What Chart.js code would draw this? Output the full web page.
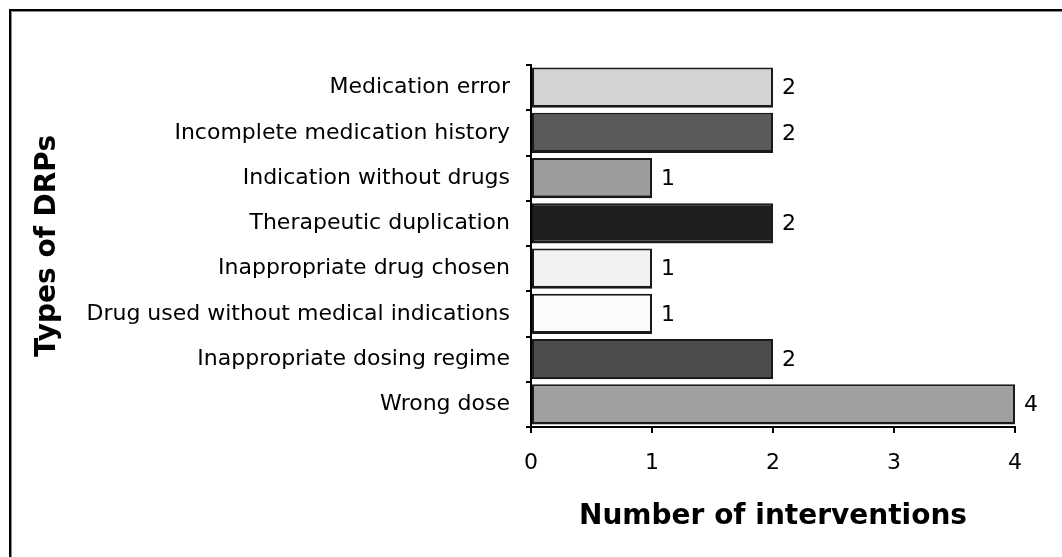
<!DOCTYPE html>
<html>
<head>
<meta charset="utf-8">
<script src="https://cdn.jsdelivr.net/npm/chart.js@4.4.1/dist/chart.umd.min.js"></script>
<style>
  html, body { margin: 0; padding: 0; background: #fff; overflow: hidden; }
  #c { display: block; }
</style>
</head>
<body>
<canvas id="c" width="1062" height="557"></canvas>
<script>
// Drug-related problems (DRPs) and the number of interventions for each
const categories = [
  'Medication error',
  'Incomplete medication history',
  'Indication without drugs',
  'Therapeutic duplication',
  'Inappropriate drug chosen',
  'Drug used without medical indications',
  'Inappropriate dosing regime',
  'Wrong dose'
];
const interventions = [2, 2, 1, 2, 1, 1, 2, 4];
const barColors = ['#d3d3d3', '#5a5a5a', '#9c9c9c', '#1e1e1e', '#f2f2f2', '#fbfbfb', '#4c4c4c', '#a0a0a0'];
const xTickValues = [0, 1, 2, 3, 4];

const FONT = "'DejaVu Sans', 'Liberation Sans', Arial, sans-serif";

// Outer frame (left and top edges)
const framePlugin = {
  id: 'frame',
  afterDraw(chart) {
    const ctx = chart.ctx;
    ctx.save();
    ctx.fillStyle = '#000';
    ctx.fillRect(9, 9, chart.width - 9, 2);
    ctx.fillRect(9, 9, 2, chart.height - 9);
    ctx.fillStyle = '#8a8a8a';
    ctx.fillRect(11, 11, chart.width - 11, 1);
    ctx.fillRect(11, 11, 1, chart.height - 11);
    ctx.restore();
  }
};

// Value written just past the end of each bar
const valueLabels = {
  id: 'valueLabels',
  afterDatasetsDraw(chart) {
    const ctx = chart.ctx;
    const meta = chart.getDatasetMeta(0);
    const data = chart.data.datasets[0].data;
    ctx.save();
    ctx.font = '22px ' + FONT;
    ctx.fillStyle = '#000';
    ctx.textAlign = 'left';
    ctx.textBaseline = 'middle';
    meta.data.forEach((bar, i) => {
      ctx.fillText(String(data[i]), bar.x + 9, bar.y + 1);
    });
    ctx.restore();
  }
};

new Chart(document.getElementById('c'), {
  type: 'bar',
  data: {
    labels: categories,
    datasets: [{
      data: interventions,
      backgroundColor: barColors,
      borderColor: '#1a1a1a',
      borderWidth: { top: 2, left: 2, right: 2, bottom: 3 },
      borderSkipped: false,
      barPercentage: 0.89,
      categoryPercentage: 1
    }]
  },
  options: {
    indexAxis: 'y',
    responsive: false,
    animation: false,
    events: [],
    layout: { padding: { top: 65, right: 47, bottom: 0, left: 0 } },
    plugins: {
      legend: { display: false },
      tooltip: { enabled: false }
    },
    scales: {
      x: {
        type: 'linear',
        min: xTickValues[0],
        max: xTickValues[xTickValues.length - 1],
        afterBuildTicks(scale) {
          scale.ticks = xTickValues.map(v => ({ value: v }));
        },
        afterFit(scale) { scale.height = 130; },
        grid: { drawOnChartArea: false, drawTicks: true, tickLength: 6, color: '#000', lineWidth: 2 },
        border: { display: true, color: '#000', width: 2 },
        ticks: { color: '#000', font: { family: FONT, size: 22 }, padding: 17 },
        title: {
          display: true,
          text: 'Number of interventions',
          color: '#000',
          font: { family: FONT, size: 28, weight: 'bold' },
          padding: { top: 0, bottom: 23 }
        }
      },
      y: {
        type: 'category',
        afterFit(scale) { scale.width = 531; },
        grid: { offset: true, drawOnChartArea: false, drawTicks: true, tickLength: 5, color: '#000', lineWidth: 2 },
        border: { display: true, color: '#000', width: 2 },
        ticks: { color: '#000', font: { family: FONT, size: 22 }, padding: 16, autoSkip: false },
        title: {
          display: true,
          text: 'Types of DRPs',
          color: '#000',
          font: { family: FONT, size: 28, weight: 'bold' },
          padding: { top: 31, bottom: 0 }
        }
      }
    }
  },
  plugins: [framePlugin, valueLabels]
});
</script>
</body>
</html>
